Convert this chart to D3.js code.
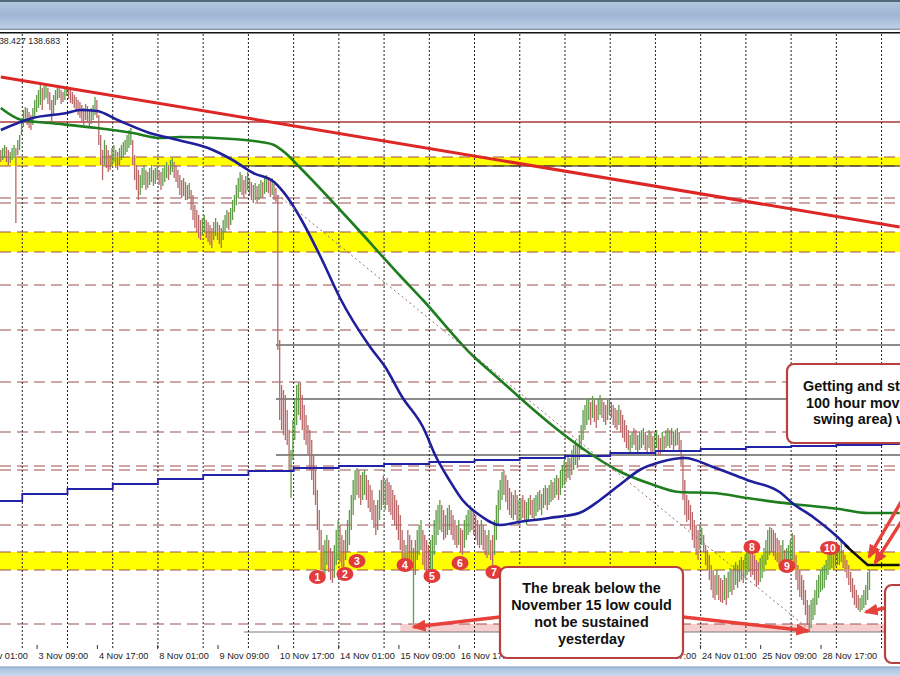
<!DOCTYPE html>
<html><head><meta charset="utf-8">
<script src="https://cdn.jsdelivr.net/npm/d3@7"></script>
<style>
html,body{margin:0;padding:0;background:#fff;}
svg{display:block;}
</style></head>
<body>
<svg id="chart" width="900" height="676"></svg>
<script>
// ---- USDJPY hourly bars (high / low per bar, u = up bar, d = down bar) ----
const barHigh = [
147.10,147.14,147.20,147.16,147.10,147.06,147.14,147.20,147.14,147.30,
147.40,147.70,147.90,147.96,147.94,147.86,147.80,147.94,148.10,148.20,
148.30,148.40,148.34,148.38,148.42,148.34,148.26,148.10,148.20,148.30,
148.34,148.38,148.30,148.26,148.34,148.38,148.36,148.30,148.26,148.20,
148.16,148.10,148.06,148.00,147.94,148.02,147.98,147.90,147.94,148.00,
148.16,148.10,147.80,147.40,147.10,147.30,147.20,147.10,147.00,147.14,
147.20,147.10,147.06,147.14,147.20,147.26,147.30,147.40,147.50,147.54,
147.30,147.00,146.80,146.70,146.60,146.74,146.80,146.70,146.66,146.74,
146.80,146.70,146.74,146.78,146.70,146.66,146.74,146.80,146.86,146.80,
146.90,146.94,146.86,146.80,146.70,146.60,146.50,146.54,146.46,146.40,
146.44,146.30,146.20,146.00,145.90,145.80,145.70,145.74,145.80,145.70,
145.66,145.60,145.54,145.66,145.74,145.66,145.60,145.54,145.70,145.80,
145.90,145.86,145.94,146.10,146.20,146.40,146.54,146.66,146.60,146.50,
146.58,146.66,146.54,146.46,146.40,146.44,146.38,146.42,146.50,146.46,
146.54,146.60,146.56,146.50,146.54,146.42,146.34,146.20,143.30,
142.40,142.30,142.20,141.90,141.50,141.10,141.70,142.10,142.40,142.44,142.46,
142.20,142.00,141.80,141.60,141.50,141.30,141.00,140.70,140.30,139.90,
139.50,139.20,139.30,139.40,139.30,139.14,139.06,139.20,139.50,139.70,
139.60,139.40,139.30,139.50,139.70,139.90,140.20,140.50,140.70,140.74,
140.70,140.60,140.66,140.70,140.60,140.50,140.40,140.30,140.10,140.00,
140.10,140.30,140.50,140.58,140.50,140.54,140.46,140.40,140.30,140.20,
140.10,140.00,139.80,139.50,139.30,139.20,139.50,139.40,139.30,139.14,
139.30,139.50,139.60,139.70,139.50,139.40,139.30,139.20,139.30,139.40,
139.70,139.90,140.00,140.10,140.00,139.90,139.80,139.94,140.00,139.90,
139.80,139.70,139.60,139.70,139.54,139.50,139.70,139.80,139.90,140.00,
139.94,139.86,139.80,139.70,139.60,139.70,139.60,139.50,139.40,139.50,
139.30,139.40,139.70,140.00,140.30,140.50,140.66,140.70,140.60,140.50,
140.34,140.26,140.20,140.30,140.20,140.10,140.14,140.20,140.10,140.06,
140.14,140.20,140.10,140.14,140.20,140.26,140.30,140.22,140.34,140.40,
140.34,140.40,140.50,140.46,140.54,140.60,140.54,140.70,140.80,140.90,
140.86,141.00,140.94,141.10,141.20,141.30,141.20,141.40,141.60,141.90,
142.00,142.10,142.14,142.06,142.18,142.10,142.00,142.14,142.20,142.14,
142.06,142.00,142.10,142.14,142.06,142.00,141.94,141.90,142.00,141.90,
141.80,141.70,141.60,141.50,141.40,141.46,141.54,141.50,141.40,141.46,
141.50,141.54,141.46,141.40,141.50,141.46,141.38,141.44,141.50,141.40,
141.34,141.46,141.38,141.50,141.54,141.50,141.54,141.46,141.50,141.54,
141.46,141.30,141.00,140.50,140.20,140.10,140.00,139.86,139.70,139.60,
139.50,139.60,139.54,139.40,139.20,139.10,139.00,138.80,138.70,138.60,
138.70,138.60,138.54,138.50,138.60,138.54,138.66,138.74,138.70,138.80,
138.86,138.80,138.90,138.96,138.90,139.00,139.10,139.20,139.30,139.14,
139.00,138.90,138.86,138.94,139.00,139.14,139.30,139.50,139.56,139.54,
139.50,139.44,139.34,139.30,139.20,139.30,139.10,139.14,139.20,139.30,
139.44,139.40,139.00,138.80,138.70,138.60,138.50,138.30,138.10,138.00,
138.10,138.14,138.30,138.50,138.60,138.70,138.76,138.80,138.90,139.00,
139.06,139.10,139.04,139.10,139.14,139.20,139.30,139.10,139.00,138.90,
138.80,138.66,138.54,138.40,138.30,138.20,138.14,138.20,138.30,138.40,
138.66,138.70
];
const barLow = [
146.86,146.90,146.94,146.86,146.80,146.84,146.90,146.94,145.64,147.00,
147.10,147.40,147.56,147.66,147.60,147.54,147.50,147.60,147.74,147.86,
147.94,148.00,147.90,148.10,148.14,148.02,147.90,147.66,147.80,148.00,
148.10,148.14,148.02,148.06,148.10,148.18,148.12,148.04,148.02,147.94,
147.90,147.80,147.74,147.66,147.60,147.70,147.66,147.56,147.62,147.70,
147.80,147.74,147.20,146.80,146.50,146.80,146.74,146.66,146.70,146.80,
146.86,146.74,146.70,146.80,146.90,146.94,147.00,147.06,147.14,147.20,
146.80,146.50,146.30,146.10,146.20,146.34,146.40,146.30,146.34,146.40,
146.46,146.38,146.42,146.50,146.40,146.30,146.38,146.46,146.54,146.50,
146.60,146.66,146.54,146.46,146.34,146.20,146.14,146.18,146.10,146.10,
146.14,145.90,145.70,145.54,145.46,145.34,145.30,145.40,145.46,145.34,
145.26,145.20,145.14,145.30,145.38,145.30,145.22,145.14,145.30,145.46,
145.54,145.50,145.60,145.70,145.86,146.00,146.14,146.26,146.20,146.14,
146.22,146.30,146.18,146.10,146.04,146.10,146.06,146.10,146.14,146.14,
146.22,146.26,146.24,146.16,146.20,146.10,146.06,143.10,141.70,
141.50,141.40,141.30,141.20,140.70,140.14,140.90,141.30,141.60,141.80,141.70,
141.50,141.30,141.20,141.00,140.70,140.50,140.20,140.00,139.50,139.10,
138.70,138.54,138.60,138.80,138.66,138.50,138.44,138.54,138.80,138.90,
138.86,138.76,138.74,138.90,139.06,139.20,139.50,139.80,140.10,140.20,
140.14,140.00,140.10,140.20,140.10,139.94,139.86,139.70,139.54,139.40,
139.50,139.70,139.90,140.00,139.90,140.00,139.86,139.80,139.70,139.60,
139.50,139.30,139.10,138.90,138.74,138.70,138.80,138.74,138.80,137.64,
138.60,138.90,139.00,139.10,138.80,138.70,138.66,138.54,138.60,138.70,
139.00,139.20,139.40,139.50,139.46,139.30,139.34,139.40,139.50,139.40,
139.30,139.20,139.14,139.20,139.06,139.00,139.14,139.30,139.40,139.46,
139.50,139.40,139.30,139.20,139.14,139.20,139.10,139.00,138.94,139.00,
138.90,138.80,139.00,139.30,139.60,139.90,140.10,140.20,140.06,139.90,
139.80,139.74,139.70,139.80,139.66,139.60,139.70,139.74,139.66,139.60,
139.70,139.80,139.74,139.70,139.78,139.86,139.90,139.80,139.94,140.00,
139.90,140.00,140.06,140.10,140.14,140.20,140.10,140.20,140.34,140.40,
140.46,140.54,140.50,140.60,140.70,140.80,140.74,140.90,141.10,141.30,
141.50,141.60,141.70,141.60,141.74,141.66,141.54,141.70,141.80,141.74,
141.66,141.60,141.70,141.80,141.74,141.60,141.54,141.50,141.60,141.46,
141.34,141.26,141.14,141.10,141.06,141.14,141.20,141.10,141.06,141.10,
141.14,141.20,141.10,141.06,141.14,141.06,141.00,141.10,141.14,141.00,
140.98,141.10,141.06,141.14,141.18,141.14,141.20,141.10,141.18,141.20,
141.10,140.80,140.10,139.80,139.66,139.70,139.50,139.30,139.14,139.00,
138.90,139.10,139.20,139.06,138.80,138.70,138.50,138.30,138.14,138.10,
138.20,138.10,138.06,138.04,138.10,138.00,138.14,138.26,138.20,138.30,
138.40,138.34,138.46,138.50,138.44,138.54,138.60,138.66,138.56,138.60,
138.50,138.36,138.40,138.46,138.54,138.66,138.80,138.90,139.00,139.06,
138.98,138.90,138.86,138.80,138.74,138.80,138.70,138.74,138.78,138.86,
138.90,138.80,138.50,138.30,138.16,138.10,138.00,137.80,137.60,137.46,
137.54,137.70,137.80,138.00,138.14,138.26,138.30,138.34,138.50,138.60,
138.70,138.74,138.70,138.78,138.80,138.80,138.86,138.74,138.66,138.54,
138.40,138.26,138.14,138.00,137.94,137.90,137.86,137.90,137.94,138.00,
138.10,138.30
];
const barDir = (
  "duudduuudu uuuuddduuu uuduuddduu uudduudddd dddddudduu uddddudddu udduuuuuuu " +
  "dddduuuduu uduudduuud uudddddudd udddddduud ddduuddduu uduuuuuudd uuddduduud " +
  "uudduddd dddddduuuuud dddddddddd dduuddduuu ddduuuuuuu dduudddddd uuududdddd " +
  "dddddudddu duuudddduu uuuuddduud dddudduuuu dddddudddu dduuuuuddd ddudduuddu " +
  "udduuuduuu duuduuduuu duduuuduuu uuududduud dduuddddud dddduudduu uuddudduud " +
  "duduududuu dddddddddd duuddddddd uddduduudu uduuduuudd ddduuuuuud ddddduduuu " +
  "uddddddddd uuuuuuuuuu uuduuuuddd dddddduuuu uu").replace(/\s+/g, "");

// ---- time axis labels (bar index of each label) ----
const timeLabels = ["2 Nov 01:00","3 Nov 09:00","4 Nov 17:00","8 Nov 01:00","9 Nov 09:00",
  "10 Nov 17:00","14 Nov 01:00","15 Nov 09:00","16 Nov 17:00","18 Nov 01:00","21 Nov 09:00",
  "22 Nov 17:00","24 Nov 01:00","25 Nov 09:00","28 Nov 17:00"];
const labelBars = [-13,19,51,83,115,147,179,211,243,275,307,339,371,403,435];

// ---- moving averages: [bar, price] ----
const ma200 = [[0,147.94],[11,147.70],[26,147.64],[51,147.54],[70,147.44],[85,147.34],[95,147.36],
  [123,147.32],[138,147.26],[145,147.20],[151,147.04],[159,146.74],[186,145.66],[212,144.58],
  [224,144.10],[249,143.04],[265,142.50],[281,141.96],[297,141.46],[313,141.02],[329,140.66],
  [345,140.42],[360,140.26],[378,140.24],[396,140.14],[420,140.02],[445,139.92],[460,139.84],[477,139.84]];
const ma100 = [[0,147.50],[17,147.74],[35,147.84],[42,147.90],[51,147.88],[62,147.70],[79,147.44],
  [94,147.30],[110,147.14],[123,146.90],[134,146.64],[145,146.46],[152,146.16],[159,145.74],
  [170,144.94],[180,144.14],[196,143.16],[204,142.76],[213,142.16],[224,141.56],[231,140.96],
  [238,140.50],[245,140.10],[254,139.80],[265,139.60],[275,139.66],[291,139.74],[307,139.84],
  [318,140.10],[329,140.42],[339,140.70],[350,140.86],[363,140.94],[378,140.76],[396,140.50],
  [414,140.24],[420,140.04],[431,139.76],[444,139.36],[450,139.14]];
const ma100Tail = [[448,139.20],[460,138.80],[477,138.80]];
// daily moving average, one value per trading day
const dailyMA = [140.08,140.22,140.32,140.42,140.52,140.60,140.68,140.74,140.78,140.82,140.86,
  140.90,140.94,140.98,141.04,141.08,141.12,141.16,141.18,141.20,141.22];
const gridStartBar = 11.4, barsPerDay = 24, lastBar = 477;

// ---- horizontal levels (prices) ----
const yellowZones = [[146.96,146.78],[145.46,145.06],[139.06,138.70]];
const lowZone = [137.62,137.46], lowZoneStart = 212;
const dashedLevels = [146.96,146.78,146.14,146.04,145.46,145.06,144.40,143.50,142.46,141.46,
  140.78,140.70,139.60,139.06,138.70,137.62];
const blackLevels = [146.78,143.20,142.12,141.00];
const blackLevelStart = [129,146,146,146];
const grayLevel = 137.46, grayLevelStart = 129;
const redLevel = 147.66;
const trendLine = [[0,148.56],[477,145.56]];
const swingLine = [[147,146.20],[428,137.54]];

// ---- numbered swing lows: [label, bar, price] ----
const swingMarks = [[1,168,138.56],[2,182.6,138.62],[3,189,138.88],[4,214.5,138.80],[5,228.8,138.58],
  [6,243.7,138.84],[7,261.7,138.66],[8,398.6,139.16],[9,417.2,138.78],[10,440,139.14]];

const W = 900, H = 676;
const svg = d3.select("#chart");
const defs = svg.append("defs");

const x = d3.scaleLinear().domain([0, lastBar]).range([0.8, 0.8 + lastBar * 1.8844]);
const y = d3.scaleLinear().domain([136.9, 149.44]).range([660, 33]);

// window chrome
const topGrad = defs.append("linearGradient").attr("id", "topGrad")
  .attr("x1", 0).attr("x2", 0).attr("y1", 0).attr("y2", 1);
[[0, "#b6c8df"], [0.5, "#9fb5d4"], [1, "#bed0e7"]].forEach(([o, c]) =>
  topGrad.append("stop").attr("offset", o).attr("stop-color", c));
const botGrad = defs.append("linearGradient").attr("id", "botGrad")
  .attr("x1", 0).attr("x2", 0).attr("y1", 0).attr("y2", 1);
[[0, "#a7c1df"], [1, "#c9daee"]].forEach(([o, c]) =>
  botGrad.append("stop").attr("offset", o).attr("stop-color", c));

svg.append("rect").attr("width", W).attr("height", H).attr("fill", "#fff");
svg.append("rect").attr("width", W).attr("height", 29).attr("fill", "url(#topGrad)");
svg.append("rect").attr("width", W).attr("height", 2).attr("fill", "#4f6a79");
svg.append("rect").attr("y", 28.5).attr("width", W).attr("height", 1.5).attr("fill", "#8b9ab0");
svg.append("line").attr("x1", 0).attr("x2", W).attr("y1", 32.8).attr("y2", 32.8)
  .attr("stroke", "#111").attr("stroke-width", 1.6);
svg.append("rect").attr("y", 667).attr("width", W).attr("height", 9).attr("fill", "url(#botGrad)");
svg.append("line").attr("x1", 0).attr("x2", W).attr("y1", 667).attr("y2", 667)
  .attr("stroke", "#7d9fc4").attr("stroke-width", 1);

defs.append("clipPath").attr("id", "plotClip").append("rect")
  .attr("x", 0).attr("y", 34).attr("width", W).attr("height", 614);
const plot = svg.append("g").attr("clip-path", "url(#plotClip)");

// shaded zones
plot.selectAll("rect.zone").data(yellowZones).join("rect").attr("class", "zone")
  .attr("x", 0).attr("width", W)
  .attr("y", d => y(d[0])).attr("height", d => y(d[1]) - y(d[0]))
  .attr("fill", "#ffff00");
plot.append("rect").attr("x", x(lowZoneStart)).attr("width", W - x(lowZoneStart))
  .attr("y", y(lowZone[0])).attr("height", y(lowZone[1]) - y(lowZone[0]))
  .attr("fill", "#f7cfcf");

// levels
plot.selectAll("line.dash").data(dashedLevels).join("line").attr("class", "dash")
  .attr("x1", 0).attr("x2", W).attr("y1", d => y(d)).attr("y2", d => y(d))
  .attr("stroke", "#a04e4e").attr("stroke-width", 1.2).attr("stroke-dasharray", "11,6");
plot.selectAll("line.blk").data(blackLevels).join("line").attr("class", "blk")
  .attr("x1", (d, i) => x(blackLevelStart[i])).attr("x2", W)
  .attr("y1", d => y(d)).attr("y2", d => y(d))
  .attr("stroke", "#1a1a1a").attr("stroke-width", 1.1);
plot.append("line").attr("x1", x(grayLevelStart)).attr("x2", W)
  .attr("y1", y(grayLevel)).attr("y2", y(grayLevel))
  .attr("stroke", "#7a7a7a").attr("stroke-width", 1.2);
plot.append("line").attr("x1", 0).attr("x2", W).attr("y1", y(redLevel)).attr("y2", y(redLevel))
  .attr("stroke", "#a83a3a").attr("stroke-width", 1.5);

// vertical day grid
const gridBars = d3.range(gridStartBar, lastBar, barsPerDay);
plot.selectAll("line.grid").data(gridBars).join("line").attr("class", "grid")
  .attr("x1", d => x(d)).attr("x2", d => x(d)).attr("y1", 34).attr("y2", 650)
  .attr("stroke", "#222").attr("stroke-width", 1).attr("stroke-dasharray", "2,2");

// bars
plot.append("g").selectAll("line").data(d3.range(barHigh.length)).join("line")
  .attr("x1", i => x(i)).attr("x2", i => x(i))
  .attr("y1", i => y(barHigh[i])).attr("y2", i => y(barLow[i]))
  .attr("stroke", i => barDir[i] === "u" ? "#5f9c46" : "#b86868")
  .attr("stroke-width", 1.3);

// moving averages
const line = d3.line().x(d => x(d[0])).y(d => y(d[1])).curve(d3.curveMonotoneX);
const dailyPts = dailyMA.map((v, j) => [gridStartBar + barsPerDay * (j - 1), v]);
dailyPts.push([lastBar, dailyMA[dailyMA.length - 1]]);
plot.append("path").attr("d", d3.line().x(d => x(d[0])).y(d => y(d[1])).curve(d3.curveStepAfter)(dailyPts))
  .attr("fill", "none").attr("stroke", "#2323a8").attr("stroke-width", 1.8);
plot.append("path").attr("d", line(ma200)).attr("fill", "none")
  .attr("stroke", "#1e7d1e").attr("stroke-width", 2.6);
plot.append("path").attr("d", line(ma100)).attr("fill", "none")
  .attr("stroke", "#1f1f9c").attr("stroke-width", 2.6);
plot.append("path").attr("d", d3.line().x(d => x(d[0])).y(d => y(d[1]))(ma100Tail)).attr("fill", "none")
  .attr("stroke", "#111").attr("stroke-width", 2.4);

// trend lines
plot.append("line").attr("x1", x(trendLine[0][0])).attr("y1", y(trendLine[0][1]))
  .attr("x2", x(trendLine[1][0])).attr("y2", y(trendLine[1][1]))
  .attr("stroke", "#dd2626").attr("stroke-width", 3);
plot.append("line").attr("x1", x(swingLine[0][0])).attr("y1", y(swingLine[0][1]))
  .attr("x2", x(swingLine[1][0])).attr("y2", y(swingLine[1][1]))
  .attr("stroke", "#9a6a6a").attr("stroke-width", 1).attr("stroke-dasharray", "2,3");

// time axis
const axis = d3.axisBottom(x).tickValues(labelBars)
  .tickFormat((d, i) => timeLabels[i]).tickSize(4).tickPadding(3);
const ax = svg.append("g").attr("transform", "translate(0,645)").call(axis);
ax.select(".domain").remove();
ax.selectAll("line").attr("stroke", "#333");
ax.selectAll("text").attr("text-anchor", "start").attr("dx", 1.5)
  .attr("fill", "#222").style("font", "9.2px Arial, 'Liberation Sans', sans-serif");

// price readout
svg.append("text").attr("x", -6).attr("y", 44).text("138.427 138.683")
  .attr("fill", "#222").style("font", "8.8px Arial, 'Liberation Sans', sans-serif");

// numbered swing lows
const marks = svg.append("g").selectAll("g").data(swingMarks).join("g")
  .attr("transform", d => `translate(${x(d[1])},${y(d[2])})`);
marks.append("ellipse").attr("rx", d => d[0] >= 10 ? 10 : 8.5).attr("ry", 7)
  .attr("fill", "#e23b3b");
marks.append("text").text(d => d[0]).attr("text-anchor", "middle").attr("dy", 3.8)
  .attr("fill", "#fff").style("font", "bold 10.5px Arial, 'Liberation Sans', sans-serif");

// arrows
defs.append("marker").attr("id", "head").attr("markerUnits", "userSpaceOnUse")
  .attr("viewBox", "0 0 14 12").attr("refX", 12).attr("refY", 6)
  .attr("markerWidth", 14).attr("markerHeight", 12).attr("orient", "auto")
  .append("path").attr("d", "M0,0 L14,6 L0,12 Z").attr("fill", "#e8403a");
const arrows = [
  [[500, 617], [x(219), y(137.56)]],
  [[683, 617], [x(428.5), y(137.48)]],
  [[885, 608], [x(459), y(137.86)]],
  [[915, 478], [x(460.7), y(138.96)]],
  [[915, 500], [x(463.9), y(138.84)]]
];
svg.append("g").selectAll("line").data(arrows).join("line")
  .attr("x1", d => d[0][0]).attr("y1", d => d[0][1])
  .attr("x2", d => d[1][0]).attr("y2", d => d[1][1])
  .attr("stroke", "#e8403a").attr("stroke-width", 3.4).attr("marker-end", "url(#head)");

// callout boxes
const boxFont = "bold 14.4px Arial, 'Liberation Sans', sans-serif";
function callout(bx, by, bw, bh) {
  svg.append("rect").attr("x", bx).attr("y", by).attr("width", bw).attr("height", bh)
    .attr("rx", 7).attr("fill", "#fff").attr("stroke", "#b8403e").attr("stroke-width", 2.2);
}
callout(500, 567, 183, 91);
["The break below the", "November 15 low could", "not be sustained", "yesterday"].forEach((t, i) =>
  svg.append("text").attr("x", 591.5).attr("y", 593 + i * 17).attr("text-anchor", "middle")
    .attr("fill", "#111").style("font", boxFont).text(t));
callout(787, 364, 300, 79);
[["Getting and staying above the", 803], ["100 hour moving average (and", 806],
 ["swing area) would increase", 813]].forEach(([t, tx], i) =>
  svg.append("text").attr("x", tx).attr("y", 391 + i * 16.5)
    .attr("fill", "#111").style("font", boxFont).text(t));
callout(885, 585, 200, 78);
</script>
</body></html>
